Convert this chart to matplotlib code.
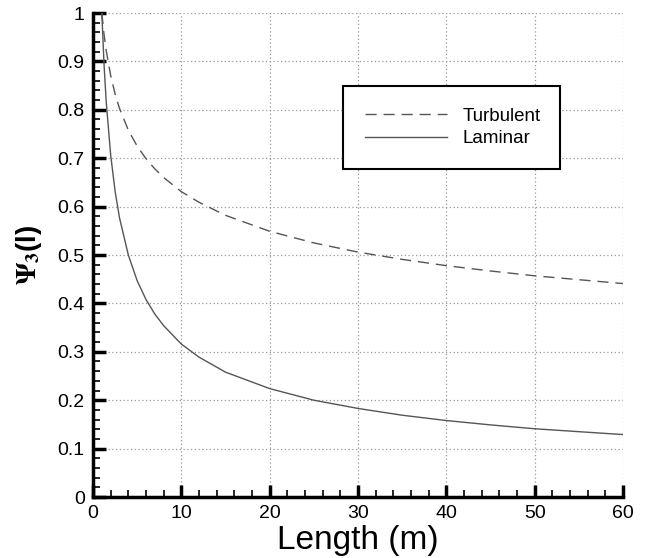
import matplotlib
matplotlib.use("Agg")
import matplotlib.pyplot as plt
from matplotlib.ticker import MultipleLocator

# Data
length_m = [1, 1.25, 1.5, 2, 2.5, 3, 4, 5, 6, 7, 8, 10, 12, 15, 20, 25, 30, 35, 40, 45, 50, 55, 60]
turbulent = [1.0, 0.956, 0.922, 0.871, 0.833, 0.803, 0.758, 0.725, 0.699, 0.678, 0.660, 0.631,
             0.609, 0.582, 0.549, 0.525, 0.506, 0.491, 0.478, 0.467, 0.457, 0.449, 0.441]
laminar = [1.0, 0.894, 0.816, 0.707, 0.632, 0.577, 0.500, 0.447, 0.408, 0.378, 0.354, 0.316,
           0.289, 0.258, 0.224, 0.200, 0.183, 0.169, 0.158, 0.149, 0.141, 0.135, 0.129]
x_ticks = [0, 10, 20, 30, 40, 50, 60]
y_ticks = [0, 0.1, 0.2, 0.3, 0.4, 0.5, 0.6, 0.7, 0.8, 0.9, 1]
y_tick_labels = ["0", "0.1", "0.2", "0.3", "0.4", "0.5", "0.6", "0.7", "0.8", "0.9", "1"]

plt.rcParams['font.family'] = ['Liberation Sans', 'DejaVu Sans']
plt.rcParams['mathtext.fontset'] = 'stix'

fig = plt.figure(figsize=(6.48, 5.58), dpi=100)
ax = fig.add_axes([0.1435, 0.1093, 0.8179, 0.8674])

line_col = '#555555'
ax.plot(length_m, turbulent, color=line_col, lw=1.0, ls=(0, (8, 5)), label='Turbulent')
ax.plot(length_m, laminar, color=line_col, lw=1.0, ls='-', label='Laminar')

ax.set_xlim(0, 60)
ax.set_ylim(0, 1)
ax.set_xticks(x_ticks)
ax.set_xticklabels([str(v) for v in x_ticks])
ax.set_yticks(y_ticks)
ax.set_yticklabels(y_tick_labels)
ax.xaxis.set_minor_locator(MultipleLocator(2))
ax.yaxis.set_minor_locator(MultipleLocator(0.02))

for s in ['top', 'right']:
    ax.spines[s].set_visible(False)
for s in ['left', 'bottom']:
    ax.spines[s].set_linewidth(2.5)
    ax.spines[s].set_color('black')

ax.tick_params(which='major', direction='in', length=9, width=2.5, labelsize=14, pad=6, color='black')
ax.tick_params(which='minor', direction='in', length=5, width=1.2, color='black')

ax.grid(True, which='major', ls=(0, (1, 2)), color='#999999', lw=0.9)
ax.set_axisbelow(True)

ax.set_xlabel('Length (m)', fontsize=24, labelpad=2)
ax.set_ylabel(r'$\mathbf{\Psi}_{\mathbf{3}}$(l)', fontsize=20, fontweight='bold', labelpad=10)

leg = ax.legend(loc='center', bbox_to_anchor=(0.472, 0.676, 0.409, 0.175), mode='expand',
                borderaxespad=0, fancybox=False, edgecolor='black', framealpha=1, fontsize=13.5,
                handlelength=4.4, borderpad=1.15, labelspacing=0.3, handletextpad=0.8)
leg.get_frame().set_linewidth(1.5)

fig.savefig('out.png', dpi=100)
